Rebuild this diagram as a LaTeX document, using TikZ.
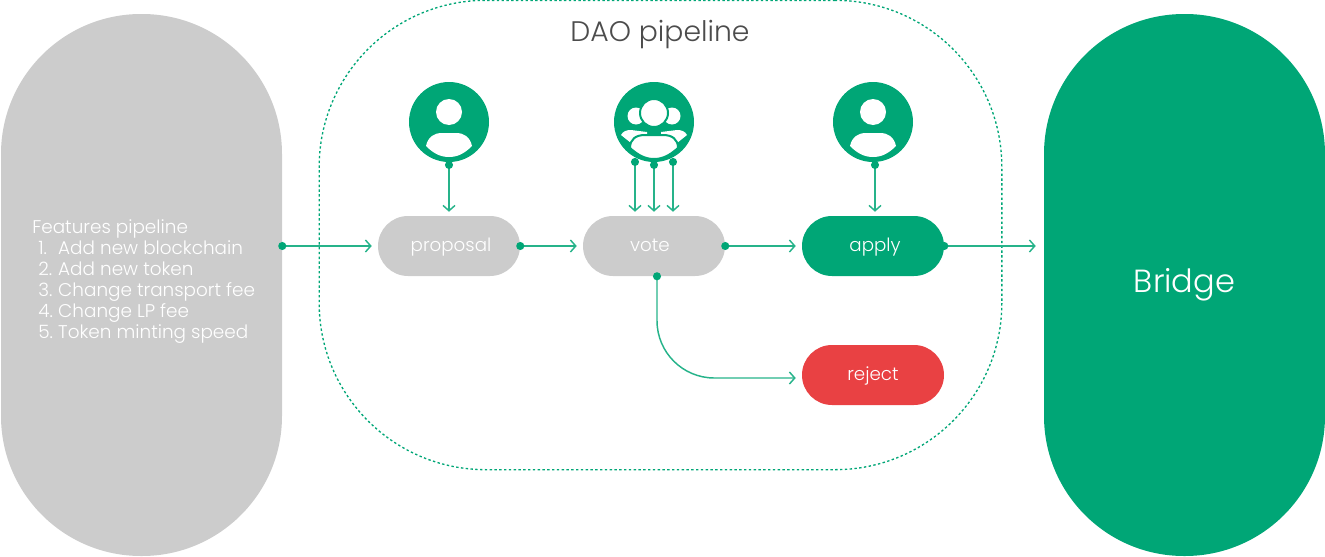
\documentclass[tikz,border=0pt]{standalone}
\usepackage{fontspec}
\setmainfont{Poppins}[UprightFont={* Light}]
\usetikzlibrary{arrows.meta, positioning, calc}
\definecolor{daogreen}{RGB}{0,166,118}
\definecolor{pipegray}{RGB}{204,204,204}
\definecolor{rejectred}{RGB}{233,65,67}
\newcommand{\steplabel}[2]{\raisebox{-4.2pt}[0pt][0pt]{\hspace*{#1}#2}}
\newcommand{\featureitem}[2]{\hspace*{4.5pt}\makebox[15pt][l]{#1}#2}
\tikzset{
  bigpill/.style={rounded corners=105pt, minimum width=210.75pt, minimum height=406.5pt, inner sep=0pt, text=white},
  pill/.style={rounded corners=22.5pt, minimum width=106.5pt, minimum height=45pt, inner sep=0pt, text=white, font=\fontsize{13.7}{16}\selectfont},
  badge/.style={circle, fill=daogreen, minimum size=60pt, inner sep=0pt},
  flow/.style={daogreen!85!white, line width=1.1pt, {Circle[length=6pt,daogreen]}-{Straight Barb[length=4pt,width=9pt]}, shorten <=-3pt, shorten >=4.5pt},
  drop/.style={flow, shorten <=-1pt, shorten >=3pt},
  person/.pic={
    \fill[white] (0,-10) circle (13);
    \fill[white] (-23,24) .. controls (-21,15) and (-15,11) .. (-7,11) -- (7,11)
      .. controls (15,11) and (21,15) .. (23,24) .. controls (15,32) and (8,35) .. (0,35)
      .. controls (-8,35) and (-15,32) .. (-23,24) -- cycle;
  },
  people/.pic={
    % back row
    \fill[white] (-18,-6) circle (8.5);
    \fill[white] (18,-6) circle (8.5);
    \fill[white] (-33,13) .. controls (-31,9) and (-27,8) .. (-23,8) -- (-7,10) -- (-7,24) -- (-23,21) -- cycle;
    \fill[white] (33,13) .. controls (31,9) and (27,8) .. (23,8) -- (7,10) -- (7,24) -- (23,21) -- cycle;
    % front
    \fill[white, draw=daogreen, line width=1.5pt] (0,-9) circle (14);
    \fill[white, draw=daogreen, line width=1.5pt] (-24,26) .. controls (-24,17) and (-18,13) .. (-9,13) -- (9,13)
      .. controls (18,13) and (24,17) .. (24,26) .. controls (15,34) and (8,37) .. (0,37)
      .. controls (-8,37) and (-15,34) .. (-24,26) -- cycle;
  },
}
\begin{document}
\begin{tikzpicture}[x=0.75pt,y=-0.75pt]
  \useasboundingbox (0,0) rectangle (1325,557);
  % Outer pipelines
  \node[bigpill,fill=pipegray] (features) at (141.5,285) {};
  \node[bigpill,fill=daogreen,font=\fontsize{24}{28}\selectfont] (bridge) at (1184.5,285) {\raisebox{1.5pt}{Bridge}};
  \node[anchor=north west,align=left,text=white,inner sep=0pt,font=\fontsize{13.8}{15.75}\selectfont] (featurelist) at (32,219)
    {Features pipeline\\\featureitem{1.}{Add new blockchain}\\\featureitem{2.}{Add new token}\\\featureitem{3.}{Change transport fee}\\\featureitem{4.}{Change LP fee}\\\featureitem{5.}{Token minting speed}};
  % DAO frame
  \node[draw=daogreen,line width=1pt,dash pattern=on 1.8pt off 1.8pt,rounded corners=125pt,minimum width=512pt,minimum height=352pt,inner sep=0pt] (dao) at (660.5,235) {};
  \node[font=\fontsize{21.2}{25}\selectfont,text=black!70] (daotitle) at (660,35) {DAO pipeline};
  % Steps
  \node[pill,fill=pipegray] (proposal) at (449,246) {\steplabel{3pt}{proposal}};
  \node[pill,fill=pipegray] (vote) at (654,246) {\steplabel{-6pt}{vote}};
  \node[pill,fill=daogreen] (apply) at (873,246) {\steplabel{3pt}{apply}};
  \node[pill,fill=rejectred] (reject) at (873,375) {\steplabel{0pt}{reject}};
  % Voters
  \node[badge] (proposer) at (449,122) {};
  \node[badge] (voters) at (654,122) {};
  \node[badge] (executor) at (873,122) {};
  \pic at (proposer) {person};
  \pic at (voters) {people};
  \pic at (executor) {person};
  % Connectors
  \draw[flow] (features.east |- proposal) -- (proposal);
  \draw[flow] (proposal) -- (vote);
  \draw[flow] (vote) -- (apply);
  \draw[flow,shorten >=6pt] (apply) -- (apply -| bridge.west);
  \draw[flow,rounded corners=43pt] ($(vote.south)+(3,0)$) |- ($(reject.west)+(0,3)$);
  \draw[drop] (proposer.south) -- (proposal);
  \draw[drop] ($(voters.south)+(-19,-3)$) -- ($(vote.north)+(-19,0)$);
  \draw[drop] (voters.south) -- (vote.north);
  \draw[drop] ($(voters.south)+(19,-3)$) -- ($(vote.north)+(19,0)$);
  \draw[drop] ($(executor.south)+(2,0)$) -- ($(apply.north)+(2,0)$);
\end{tikzpicture}
\end{document}
